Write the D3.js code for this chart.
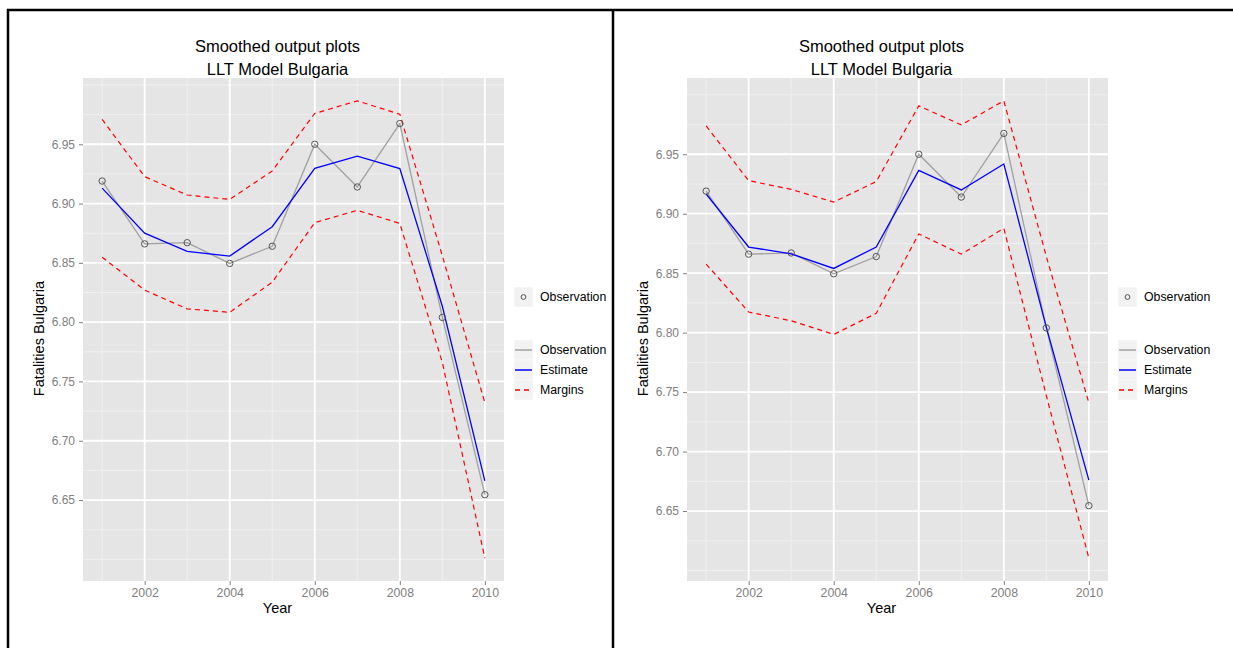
<!DOCTYPE html>
<html>
<head>
<meta charset="utf-8">
<script src="https://cdn.jsdelivr.net/npm/d3@7"></script>
<style>
  html, body { margin: 0; padding: 0; background: #fff; }
  svg { display: block; font-family: "Liberation Sans", Arial, sans-serif; }
</style>
</head>
<body>
<svg id="chart" width="1233" height="648"></svg>
<script>
// ---------------- DATA ----------------
const years = [2001, 2002, 2003, 2004, 2005, 2006, 2007, 2008, 2009, 2010];
const observed = [6.919, 6.866, 6.867, 6.8495, 6.864, 6.950, 6.914, 6.9675, 6.804, 6.6545];

// Left plot
const estimateA = [6.913, 6.875, 6.8596, 6.8557, 6.8805, 6.9297, 6.940, 6.9295, 6.8134, 6.6662];
const upperA    = [6.971, 6.9227, 6.9072, 6.9035, 6.9275, 6.976, 6.9866, 6.9753, 6.856, 6.732];
const lowerA    = [6.8548, 6.827, 6.8112, 6.8083, 6.8337, 6.8839, 6.8943, 6.8833, 6.766, 6.601];

// Right plot
const estimateB = [6.9166, 6.872, 6.8663, 6.854, 6.872, 6.9365, 6.920, 6.9418, 6.8045, 6.676];
const upperB    = [6.9738, 6.9278, 6.9205, 6.9098, 6.927, 6.9907, 6.9747, 6.9949, 6.864, 6.741];
const lowerB    = [6.8577, 6.8173, 6.81, 6.7985, 6.8162, 6.883, 6.866, 6.8877, 6.747, 6.6104];

const xTicks = [2002, 2004, 2006, 2008, 2010];
const xMinorTicks = [2001, 2003, 2005, 2007, 2009];
const yTicks = [6.65, 6.70, 6.75, 6.80, 6.85, 6.90, 6.95];
const yMinorTicks = [6.60, 6.625, 6.675, 6.725, 6.775, 6.825, 6.875, 6.925, 6.975, 7.00];
const titleLines = ["Smoothed output plots", "LLT Model Bulgaria"];
const xTitle = "Year";
const yTitle = "Fatalities Bulgaria";
const pointLegend = ["Observation"];
const lineLegend = ["Observation", "Estimate", "Margins"];

// ---------------- DRAW ----------------
const svg = d3.select("#chart");
svg.append("rect").attr("width", 1233).attr("height", 648).attr("fill", "#fff");

function drawPanel(dx, est, up, low) {
  const g = svg.append("g").attr("transform", `translate(${dx},0)`);
  const P = { left: 83, right: 504, top: 78, bottom: 581 };

  const xExt = d3.extent(years), xPad = (xExt[1] - xExt[0]) * 0.05;
  const x = d3.scaleLinear().domain([xExt[0] - xPad, xExt[1] + xPad]).range([P.left, P.right]);
  const yMin = d3.min(low.concat(observed, est)), yMax = d3.max(up.concat(observed, est));
  const yPad = (yMax - yMin) * 0.05;
  const y = d3.scaleLinear().domain([yMin - yPad, yMax + yPad]).range([P.bottom, P.top]);

  // panel
  g.append("rect").attr("x", P.left).attr("y", P.top)
    .attr("width", P.right - P.left).attr("height", P.bottom - P.top).attr("fill", "#E5E5E5");

  // minor grid
  g.selectAll(".vmin").data(xMinorTicks).join("line")
    .attr("x1", d => x(d)).attr("x2", d => x(d)).attr("y1", P.top).attr("y2", P.bottom)
    .attr("stroke", "#F2F2F2").attr("stroke-width", 0.8);
  g.selectAll(".hmin").data(yMinorTicks.filter(v => y(v) >= P.top && y(v) <= P.bottom)).join("line")
    .attr("x1", P.left).attr("x2", P.right).attr("y1", d => y(d)).attr("y2", d => y(d))
    .attr("stroke", "#F2F2F2").attr("stroke-width", 0.8);
  // major grid
  g.selectAll(".vmaj").data(xTicks).join("line")
    .attr("x1", d => x(d)).attr("x2", d => x(d)).attr("y1", P.top).attr("y2", P.bottom)
    .attr("stroke", "#FFFFFF").attr("stroke-width", 1.8);
  g.selectAll(".hmaj").data(yTicks).join("line")
    .attr("x1", P.left).attr("x2", P.right).attr("y1", d => y(d)).attr("y2", d => y(d))
    .attr("stroke", "#FFFFFF").attr("stroke-width", 1.8);

  // axes
  const xAxis = d3.axisBottom(x).tickValues(xTicks).tickFormat(d3.format("d")).tickSize(4).tickPadding(3);
  const gx = g.append("g").attr("transform", `translate(0,${P.bottom})`).call(xAxis);
  gx.select(".domain").remove();
  gx.selectAll("line").attr("stroke", "#7F7F7F");
  gx.selectAll("text").attr("fill", "#808080").attr("font-size", 12.3)
    .attr("font-family", "Liberation Sans, Arial, sans-serif");

  const yAxis = d3.axisLeft(y).tickValues(yTicks).tickFormat(d3.format(".2f")).tickSize(4).tickPadding(4);
  const gy = g.append("g").attr("transform", `translate(${P.left},0)`).call(yAxis);
  gy.select(".domain").remove();
  gy.selectAll("line").attr("stroke", "#7F7F7F");
  gy.selectAll("text").attr("fill", "#808080").attr("font-size", 12)
    .attr("font-family", "Liberation Sans, Arial, sans-serif");

  // lines
  const line = arr => d3.line().x((d, i) => x(years[i])).y(d => y(d))(arr);
  g.append("path").attr("d", line(up)).attr("fill", "none")
    .attr("stroke", "#FF0000").attr("stroke-width", 1.2).attr("stroke-dasharray", "5,4");
  g.append("path").attr("d", line(low)).attr("fill", "none")
    .attr("stroke", "#FF0000").attr("stroke-width", 1.2).attr("stroke-dasharray", "5,4");
  g.append("path").attr("d", line(observed)).attr("fill", "none")
    .attr("stroke", "#A0A0A0").attr("stroke-width", 1.3);
  g.append("path").attr("d", line(est)).attr("fill", "none")
    .attr("stroke", "#0000FF").attr("stroke-width", 1.3);
  g.selectAll(".pt").data(observed).join("circle")
    .attr("cx", (d, i) => x(years[i])).attr("cy", d => y(d)).attr("r", 3.2)
    .attr("fill", "none").attr("stroke", "#555555").attr("stroke-width", 1);

  // titles
  const tcx = (P.left + P.right) / 2 - 16;
  g.selectAll(".title").data(titleLines).join("text")
    .attr("x", tcx).attr("y", (d, i) => 52 + i * 23)
    .attr("text-anchor", "middle").attr("font-size", 16.5).attr("fill", "#000").text(d => d);
  g.append("text").attr("x", tcx).attr("y", 613).attr("text-anchor", "middle")
    .attr("font-size", 14.5).attr("fill", "#000").text(xTitle);
  g.append("text").attr("transform", `translate(44,${(P.top + P.bottom) / 2 + 9}) rotate(-90)`)
    .attr("text-anchor", "middle").attr("font-size", 14.5).attr("fill", "#000").text(yTitle);

  // legends
  const lx = 514, kw = 19, kh = 20;
  const lg1 = g.append("g");
  pointLegend.forEach((t, i) => {
    const ky = 287 + i * kh;
    lg1.append("rect").attr("x", lx).attr("y", ky).attr("width", kw).attr("height", kh)
      .attr("fill", "#F2F2F2").attr("stroke", "#fff").attr("stroke-width", 0.5);
    lg1.append("circle").attr("cx", lx + kw / 2).attr("cy", ky + kh / 2).attr("r", 2.4)
      .attr("fill", "none").attr("stroke", "#555555").attr("stroke-width", 1);
    lg1.append("text").attr("x", lx + 26).attr("y", ky + kh / 2 + 4.3)
      .attr("font-size", 12.3).attr("fill", "#000").text(t);
  });
  const styles = [
    { stroke: "#A0A0A0", dash: null },
    { stroke: "#0000FF", dash: null },
    { stroke: "#FF0000", dash: "5,4" }
  ];
  lineLegend.forEach((t, i) => {
    const ky = 340 + i * kh;
    g.append("rect").attr("x", lx).attr("y", ky).attr("width", kw).attr("height", kh)
      .attr("fill", "#F2F2F2").attr("stroke", "#fff").attr("stroke-width", 0.5);
    const ln = g.append("line").attr("x1", lx + 1).attr("x2", lx + kw - 1)
      .attr("y1", ky + kh / 2).attr("y2", ky + kh / 2)
      .attr("stroke", styles[i].stroke).attr("stroke-width", 1.5);
    if (styles[i].dash) ln.attr("stroke-dasharray", styles[i].dash);
    g.append("text").attr("x", lx + 26).attr("y", ky + kh / 2 + 4.3)
      .attr("font-size", 12.3).attr("fill", "#000").text(t);
  });
}

// frame (table borders)
svg.append("line").attr("x1", 7).attr("x2", 1233).attr("y1", 10).attr("y2", 10)
  .attr("stroke", "#000").attr("stroke-width", 2.5);
svg.append("line").attr("x1", 8).attr("x2", 8).attr("y1", 9).attr("y2", 648)
  .attr("stroke", "#000").attr("stroke-width", 2.5);
svg.append("line").attr("x1", 613).attr("x2", 613).attr("y1", 9).attr("y2", 648)
  .attr("stroke", "#000").attr("stroke-width", 2.5);

drawPanel(0, estimateA, upperA, lowerA);
drawPanel(604, estimateB, upperB, lowerB);
</script>
</body>
</html>
